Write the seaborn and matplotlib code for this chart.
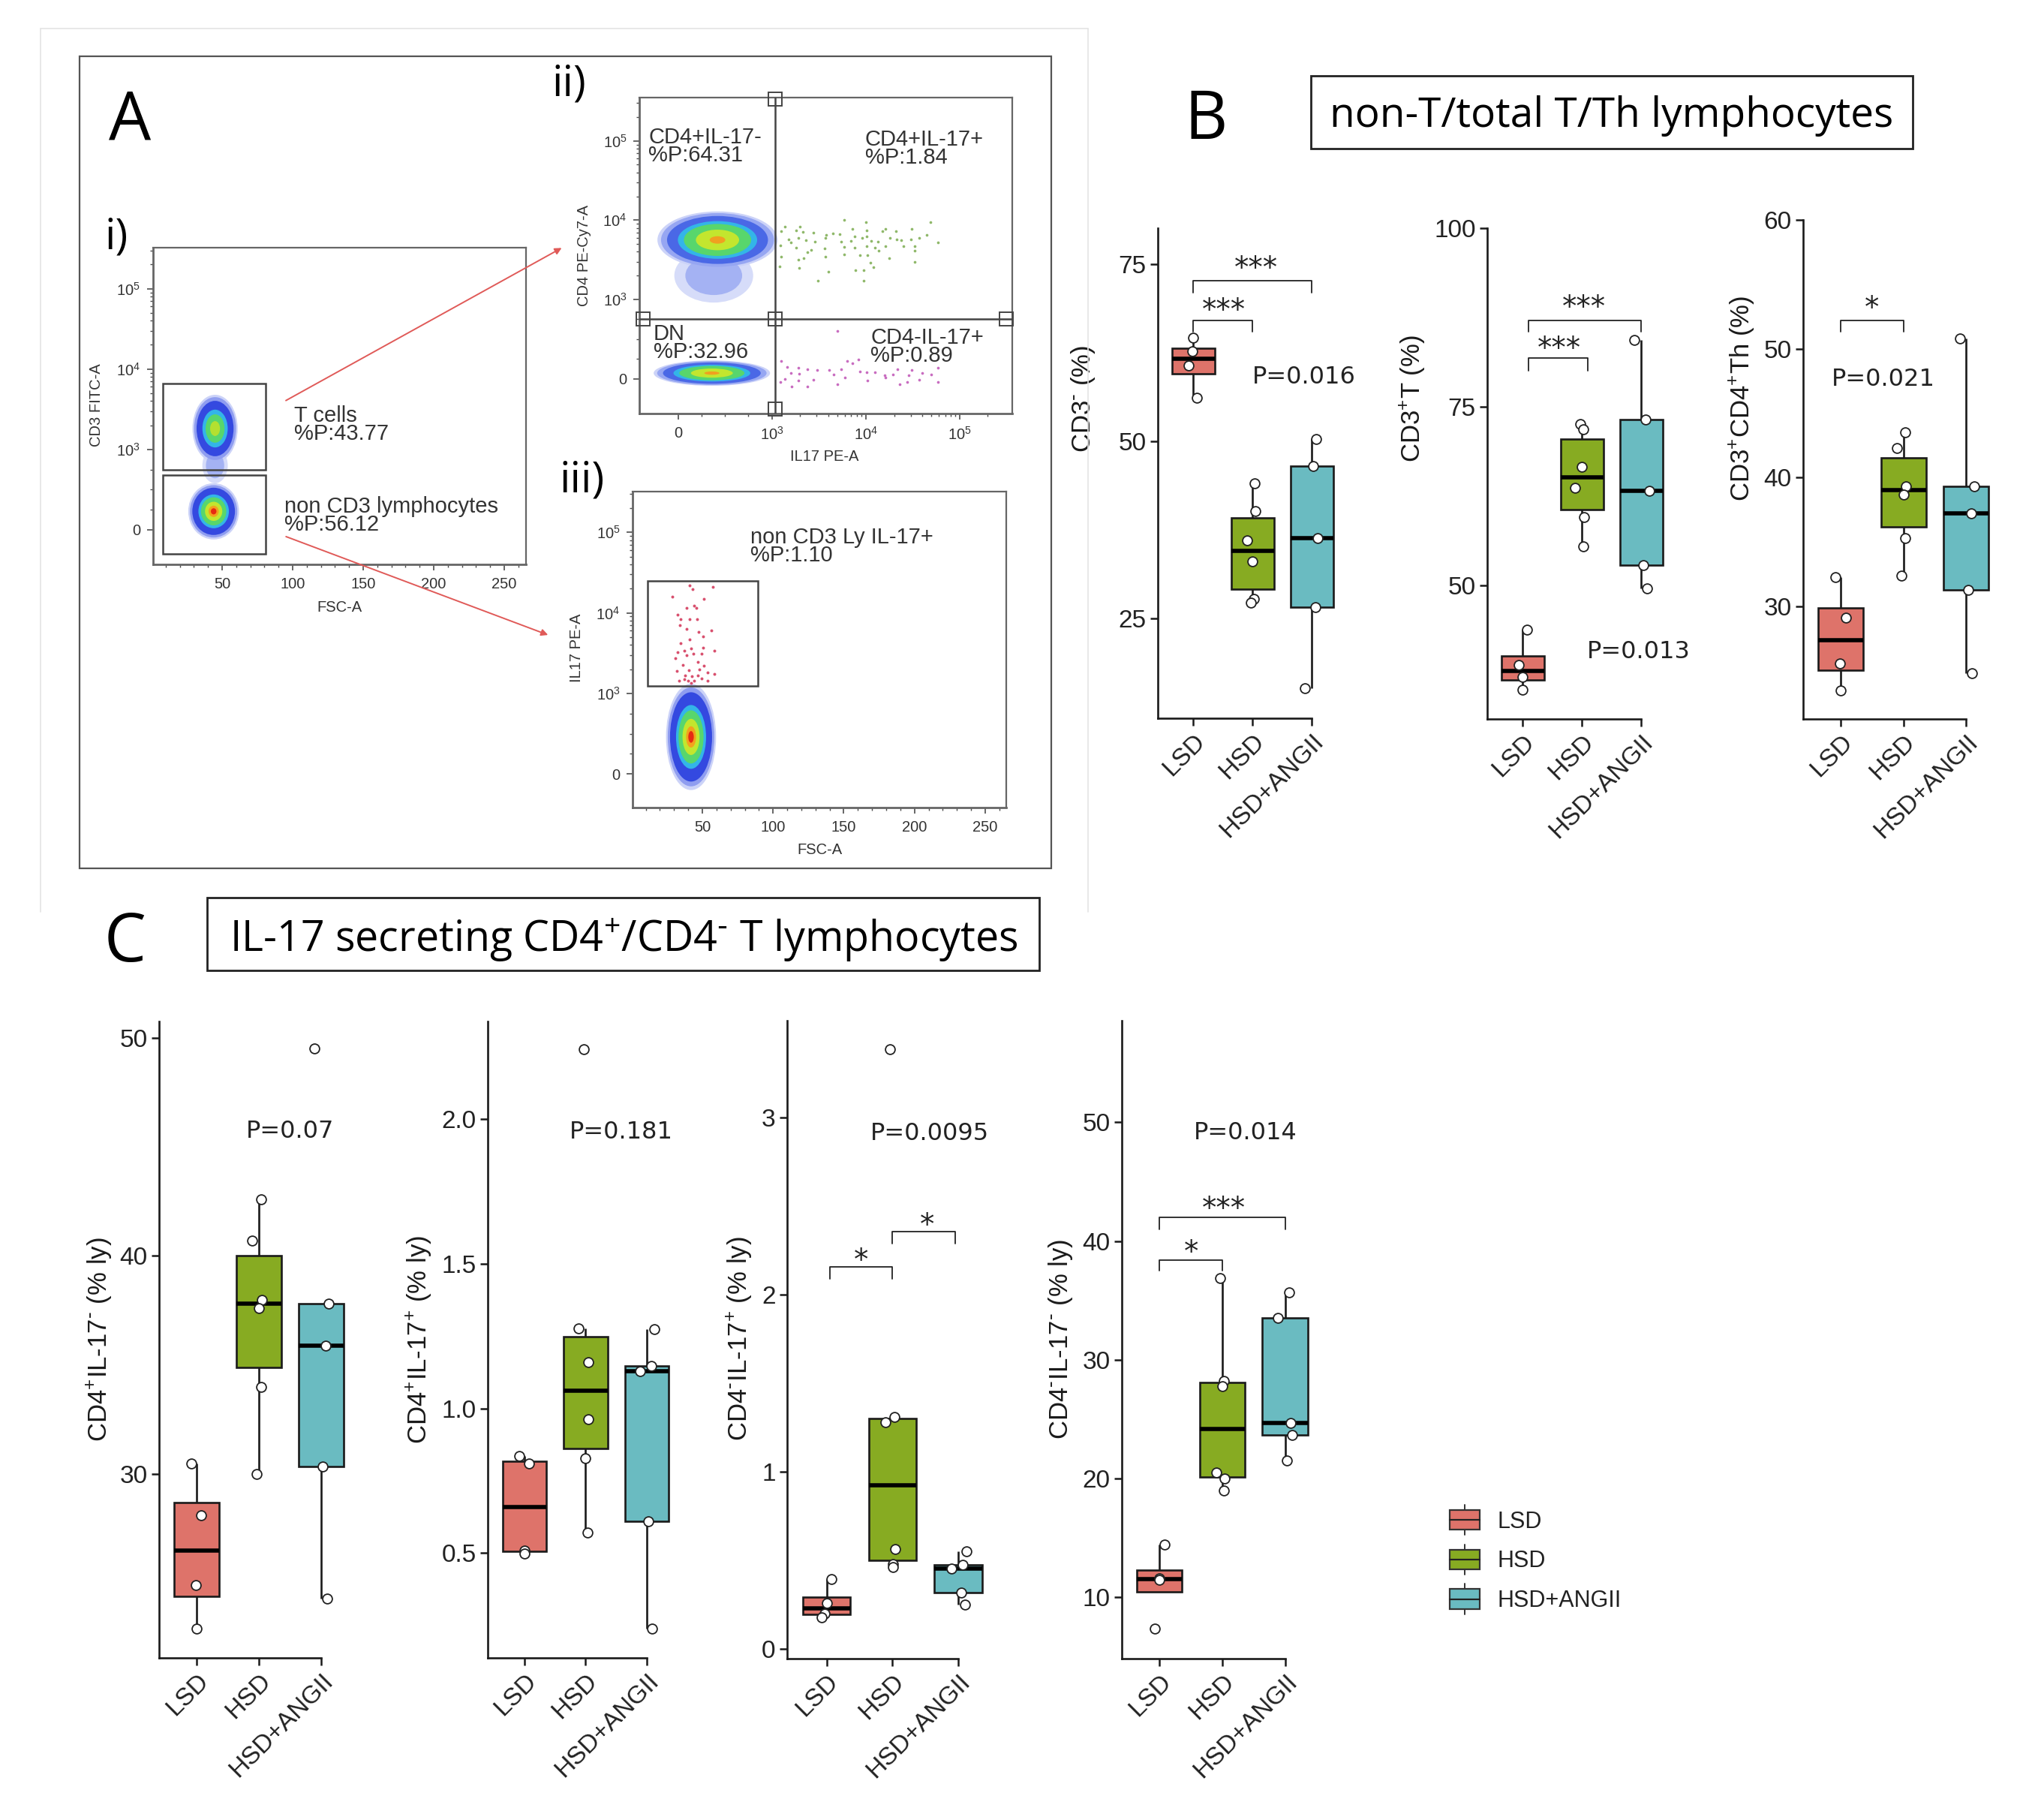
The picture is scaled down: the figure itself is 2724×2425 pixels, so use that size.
import numpy as np
import pandas as pd
import seaborn as sns
import matplotlib
matplotlib.use("Agg")
import matplotlib.pyplot as plt
from matplotlib.lines import Line2D
from matplotlib.legend_handler import HandlerBase
from matplotlib.patches import Rectangle, Ellipse, Patch, FancyArrowPatch
from matplotlib.ticker import FixedLocator

# ------------------------------------------------------------------ data
GROUPS = ["LSD", "HSD", "HSD+ANGII"]
COLORS = ["#DE736A", "#87AB22", "#6ABBC1"]

cd3neg_lsd = [64.6, 62.7, 60.7, 56.1]
cd3neg_hsd = [44.1, 40.2, 36.0, 33.0, 27.8, 27.2]
cd3neg_ang = [50.3, 46.5, 36.3, 26.6, 15.1]
cd3neg_jit = [[0, -.02, -.08, .06], [.03, .04, -.10, 0, .02, -.03], [.07, .02, .10, .06, -.12]]

cd3pos_lsd = [43.8, 38.9, 37.2, 35.4]
cd3pos_hsd = [72.6, 71.8, 66.6, 63.7, 59.6, 55.5]
cd3pos_ang = [84.4, 73.2, 63.2, 52.8, 49.6]
cd3pos_jit = [[.07, -.07, -.01, 0], [-.03, .02, -.01, -.12, .03, .02], [-.12, .07, .13, .03, .09]]

th_lsd = [32.25, 29.1, 25.6, 23.5]
th_hsd = [43.5, 42.3, 39.3, 38.7, 35.3, 32.4]
th_ang = [50.8, 39.3, 37.2, 31.3, 24.8]
th_jit = [[-.08, .08, -.01, 0], [.03, -.10, .04, 0, .03, -.03], [-.10, .13, .08, .03, .09]]

pn_lsd = [30.5, 28.1, 24.9, 22.9]
pn_hsd = [42.6, 40.7, 38.0, 37.6, 34.0, 30.0]
pn_ang = [49.5, 37.8, 35.9, 30.35, 24.3]
pn_jit = [[-.08, .08, -.01, 0], [.04, -.10, .05, 0, .04, -.03], [-.10, .12, .08, .03, .10]]

pp_lsd = [0.837, 0.811, 0.51, 0.498]
pp_hsd = [2.242, 1.277, 1.16, 0.964, 0.829, 0.57]
pp_ang = [1.275, 1.148, 1.13, 0.611, 0.239]
pp_jit = [[-.08, .08, 0, 0], [-.03, -.11, .04, .05, 0, .03], [.12, .07, -.11, .03, .09]]

np_lsd = [0.395, 0.26, 0.198, 0.18]
np_hsd = [3.384, 1.31, 1.28, 0.564, 0.48, 0.46]
np_ang = [0.55, 0.473, 0.453, 0.32, 0.25]
np_jit = [[.07, 0, -.03, -.08], [-.04, .03, -.11, .04, .01, .01], [.13, .07, -.10, .04, .10]]

nn_lsd = [14.4, 11.6, 11.45, 7.35]
nn_hsd = [36.9, 28.2, 27.8, 20.5, 20.0, 19.0]
nn_ang = [35.7, 33.55, 24.65, 23.65, 21.5]
nn_jit = [[.08, 0, 0, -.08], [-.03, .03, 0, -.10, .04, .03], [.07, -.11, .09, .11, .03]]

# flow cytometry: sparse events (axis units: FSC, log10 decades)
green_x = [3.77, 4.00, 4.69, 3.14, 3.30, 3.26, 3.10, 3.33, 3.44, 3.86, 4.21, 4.49, 4.01, 4.18, 4.32, 3.58, 3.65, 3.72,
           3.88, 4.01, 4.65, 4.57, 4.33, 4.38, 4.48, 4.77, 3.18, 3.28, 3.36, 3.46, 3.57, 3.74, 3.84, 3.96, 4.06, 4.13,
           4.26, 3.09, 3.20, 3.26, 3.42, 3.56, 3.77, 3.88, 4.01, 4.10, 4.21, 4.40, 4.52, 3.38, 3.77, 3.94, 4.02, 4.14,
           4.52, 3.10, 3.28, 3.34, 3.57, 4.25, 4.05, 4.08, 4.52, 3.08, 3.29, 3.60, 3.89, 3.98, 3.49, 3.98]
green_y = [4.00, 3.97, 3.97, 3.92, 3.92, 3.87, 3.86, 3.85, 3.84, 3.89, 3.89, 3.89, 3.87, 3.86, 3.86, 3.81, 3.83, 3.82,
           3.79, 3.79, 3.81, 3.78, 3.76, 3.75, 3.76, 3.72, 3.76, 3.78, 3.75, 3.73, 3.78, 3.73, 3.74, 3.78, 3.74, 3.73,
           3.78, 3.68, 3.72, 3.65, 3.62, 3.64, 3.66, 3.65, 3.67, 3.65, 3.67, 3.67, 3.67, 3.60, 3.57, 3.56, 3.56, 3.61,
           3.61, 3.54, 3.50, 3.52, 3.54, 3.52, 3.46, 3.41, 3.47, 3.42, 3.40, 3.35, 3.37, 3.37, 3.24, 3.24]
pink_x = [3.70, 3.10, 3.16, 3.28, 3.38, 3.48, 3.61, 3.74, 3.80, 3.86, 3.92, 3.94, 4.01, 4.10, 4.20, 4.29, 4.34, 4.49,
          4.60, 4.70, 4.77, 4.46, 3.20, 3.14, 3.28, 3.44, 3.66, 3.78, 4.02, 4.21, 4.36, 4.44, 4.57, 4.77, 3.70, 3.21,
          3.38, 3.09, 3.29]
pink_y = [2.60, 2.22, 2.15, 2.14, 2.12, 2.11, 2.11, 2.12, 2.22, 2.19, 2.24, 2.09, 2.08, 2.08, 2.04, 2.05, 2.12, 2.11,
          2.07, 2.05, 2.14, 2.04, 2.07, 2.00, 1.98, 1.99, 2.05, 2.01, 1.98, 2.01, 1.93, 1.96, 1.99, 1.96, 1.93, 1.90,
          1.90, 1.96, 2.06]
red_x = [41.2, 42.9, 57.4, 28.6, 51.2, 38.9, 44.2, 45.9, 32.7, 34.8, 40.8, 46.3, 33.9, 39.0, 56.5, 47.2, 50.3, 41.0,
         34.8, 41.9, 50.3, 58.3, 37.1, 32.7, 43.6, 49.5, 30.9, 38.9, 46.8, 36.2, 51.2, 40.6, 47.7, 31.8, 53.9, 58.3,
         38.0, 42.4, 46.8, 33.5, 39.7, 44.2, 53.9, 41.9, 37.1, 49.5]
red_y = [4.34, 4.29, 4.32, 4.20, 4.17, 4.06, 4.09, 4.06, 3.98, 3.92, 3.92, 3.92, 3.85, 3.80, 3.78, 3.76, 3.71, 3.67,
         3.62, 3.56, 3.57, 3.53, 3.53, 3.51, 3.49, 3.49, 3.44, 3.47, 3.39, 3.35, 3.34, 3.29, 3.30, 3.28, 3.26, 3.24,
         3.22, 3.21, 3.22, 3.16, 3.16, 3.16, 3.16, 3.13, 3.18, 3.19]

# dense populations summarised as nested density contours: (centre x, centre y, half width, half height)
tcell_cloud = (45, 3.26, 16, 0.42)
tcell_tail = (45, 2.80, 9, 0.22)
nonT_cloud = (44, 2.23, 18, 0.35)
cd4pos_cloud = (2.42, 3.75, 0.64, 0.36)
cd4pos_tail = (2.38, 3.30, 0.42, 0.34)
cd4neg_cloud = (2.36, 2.07, 0.62, 0.16)
il17neg_cloud = (42, 2.46, 17.7, 0.66)

DENSITY_FULL = [(1.0, "#ccd3f8"), (.93, "#8f9df0"), (.84, "#3449e0"), (.60, "#33b5e8"), (.50, "#58d66c"), (.34, "#c3e62e"), (.20, "#f2a21e"), (.11, "#e62a12")]
DENSITY_MID = [(1.0, "#ccd3f8"), (.93, "#8f9df0"), (.82, "#3449e0"), (.56, "#33b5e8"), (.42, "#58d66c"), (.22, "#b4e030")]
DENSITY_WIDE = [(1.0, "#ccd3f8"), (.94, "#96a6f2"), (.84, "#4a68e6"), (.66, "#33b5e8"), (.56, "#58d66c"), (.36, "#c3e62e"), (.13, "#f0a020")]
DENSITY_TAIL = [(1.0, "#d6dcf9"), (.72, "#a4b2f3")]

# ------------------------------------------------------------------ helpers
W, H = 2724, 2425
sns.set_theme(style="white", rc={"axes.facecolor": "none", "figure.facecolor": "white"})
plt.rcParams["font.family"] = ["Liberation Sans", "DejaVu Sans"]
plt.rcParams["mathtext.default"] = "regular"

fig = plt.figure(figsize=(W / 100, H / 100), dpi=100)
INK = "#1a1a1a"
FLOW = "#4d4d4d"
SUP_NEG = r"$^{\text{-}}$"
SUP_POS = "$^{+}$"


def px_axes(l, t, r, b):
    ax = fig.add_axes([l / W, 1 - b / H, (r - l) / W, (b - t) / H])
    ax.patch.set_alpha(0)
    return ax


def px_text(x, y, s, **kw):
    kw.setdefault("ha", "left")
    kw.setdefault("va", "center")
    return fig.text(x / W, 1 - y / H, s, **kw)


def px_frame(l, t, r, b, lw=2.0, ec="#222222"):
    fig.add_artist(Rectangle((l / W, 1 - b / H), (r - l) / W, (b - t) / H, transform=fig.transFigure,
                             fc="none", ec=ec, lw=lw))


def px_line(x0, y0, x1, y1, **kw):
    fig.add_artist(Line2D([x0 / W, x1 / W], [1 - y0 / H, 1 - y1 / H], transform=fig.transFigure, **kw))


def box_panel(vals, jit, left, top, bottom, spacing, ylim, yticks, ticklabels, ylabel, label_x, label_y,
              ptext, brackets):
    right = left + 3.2 * spacing
    ax = px_axes(left, top, right, bottom)
    df = pd.DataFrame({"code": np.concatenate([[i] * len(v) for i, v in enumerate(vals)]),
                       "value": np.concatenate(vals),
                       "jit": np.concatenate(jit)})
    sns.boxplot(data=df, x="code", y="value", hue="code", orient="x", palette=dict(enumerate(COLORS)),
                width=.72, gap=0, dodge=False, saturation=1, linewidth=1.9, linecolor=INK, showfliers=False,
                showcaps=False, medianprops={"linewidth": 4, "color": "black"}, legend=False, ax=ax, zorder=2)
    sns.scatterplot(x=df["code"] + df["jit"], y=df["value"], color="white", edgecolor="#222222", s=85,
                    linewidth=1.3, legend=False, ax=ax, zorder=5, clip_on=False)
    ax.set_xlim(-.6, 2.6)
    ax.set_ylim(*ylim)
    ax.set_xticks([0, 1, 2])
    ax.set_xticklabels(GROUPS, rotation=45, ha="right", rotation_mode="anchor", fontsize=24, color="#222222")
    ax.set_yticks(yticks)
    ax.set_yticklabels(ticklabels, fontsize=24, color="#222222")
    ax.tick_params(axis="both", length=7, width=1.8, color=INK, left=True, bottom=True, pad=4)
    ax.set_xlabel("")
    ax.set_ylabel(ylabel, fontsize=25, va="center", color=INK)
    ax.yaxis.set_label_coords((label_x - left) / (right - left), 1 - (label_y - top) / (bottom - top))
    for s in ("top", "right"):
        ax.spines[s].set_visible(False)
    for s in ("left", "bottom"):
        ax.spines[s].set_linewidth(1.9)
        ax.spines[s].set_color(INK)
    ax.spines["bottom"].set_bounds(-.6, 2)
    ax.text(ptext[0], ptext[1], ptext[2], fontsize=23, family="DejaVu Sans", ha="center", va="center", color="#222222")
    for x0, x1, y_top, y_low, x_star, y_star, stars in brackets:
        ax.plot([x0, x0, x1, x1], [y_low, y_top, y_top, y_low], color="#222222", lw=1.3, zorder=3, clip_on=False)
        ax.text(x_star, y_star, stars, fontsize=28, family="DejaVu Sans", ha="center", va="center", color="#222222")
    return ax


def flow_panel(l, t, r, b, xlim, ylim, xticks, xlabels, yticks, ylabels, xminor, yminor, xlabel, xlabel_pos,
               ylabel, ylabel_pos):
    ax = px_axes(l, t, r, b)
    ax.set_xlim(*xlim)
    ax.set_ylim(*ylim)
    ax.set_xticks(xticks)
    ax.set_xticklabels(xlabels, fontsize=14.5, color="#333333")
    ax.set_yticks(yticks)
    ax.set_yticklabels(ylabels, fontsize=14.5, color="#333333")
    ax.xaxis.set_minor_locator(FixedLocator(xminor))
    ax.yaxis.set_minor_locator(FixedLocator(yminor))
    ax.tick_params(axis="both", which="major", length=6, width=1.2, color=FLOW, left=True, bottom=True, pad=6)
    ax.tick_params(axis="both", which="minor", length=3, width=1.0, color=FLOW, left=True, bottom=True)
    for s in ax.spines.values():
        s.set_color("#666666")
        s.set_linewidth(1.6)
    ax.spines["left"].set_linewidth(2)
    ax.spines["bottom"].set_linewidth(2)
    px_text(*xlabel_pos, xlabel, ha="center", fontsize=14.5, color="#333333")
    px_text(*ylabel_pos, ylabel, ha="center", rotation=90, fontsize=14.5, color="#333333")
    return ax


def cloud(ax, spec, levels):
    cx, cy, wx, wy = spec
    for k, (scale, col) in enumerate(levels):
        ax.add_patch(Ellipse((cx, cy), 2 * wx * scale, 2 * wy * scale, fc=col, ec="none", zorder=2 + k * .01))


def gate(ax, x0, x1, y0, y1):
    ax.add_patch(Rectangle((x0, y0), x1 - x0, y1 - y0, fc="none", ec="#444444", lw=1.8, zorder=4))


# ------------------------------------------------------------------ panel A
for seg in [(54, 38, 1450, 38), (54, 38, 54, 1215), (1450, 38, 1450, 1215)]:
    px_line(*seg, color="#e4e4e4", lw=1.2)
px_frame(106, 75, 1401, 1157, lw=1.6, ec="#555555")

FSC_T = [50, 100, 150, 200, 250]
FSC_L = ["50", "100", "150", "200", "250"]
FSC_MINOR = list(range(10, 265, 10))
DEC_T = [2, 3, 4, 5]
DEC_L = ["0", "$10^3$", "$10^4$", "$10^5$"]
DEC_MINOR = [d + np.log10(m) for d in (3, 4) for m in range(2, 10)] + [5 + np.log10(m) for m in (2, 3)] + [2.25, 2.5, 2.75]

ax_i = flow_panel(203.6, 330, 701, 752, (0.85, 265.4), (1.57, 5.51), FSC_T, FSC_L, DEC_T, DEC_L, FSC_MINOR, DEC_MINOR,
                  "FSC-A", (452, 809), "CD3 FITC-A", (128, 540))
cloud(ax_i, tcell_tail, DENSITY_TAIL)
cloud(ax_i, tcell_cloud, DENSITY_MID)
cloud(ax_i, nonT_cloud, DENSITY_FULL)
gate(ax_i, 8, 80.9, 2.75, 3.82)
gate(ax_i, 8, 80.9, 1.70, 2.68)

ax_ii = flow_panel(852, 129.6, 1349, 551, (1.587, 5.56), (1.56, 5.55), DEC_T, DEC_L, DEC_T, DEC_L,
                   [d + np.log10(m) for d in (3, 4) for m in range(2, 10)] + [2.25, 2.5, 2.75, 5.3],
                   DEC_MINOR, "IL17 PE-A", (1099, 608), "CD4 PE-Cy7-A", (778, 340))
cloud(ax_ii, cd4pos_tail, DENSITY_TAIL)
cloud(ax_ii, cd4pos_cloud, DENSITY_WIDE)
cloud(ax_ii, cd4neg_cloud, DENSITY_WIDE)
sns.scatterplot(x=green_x, y=green_y, color="#8fb86a", s=7, linewidth=0, legend=False, ax=ax_ii, zorder=3)
sns.scatterplot(x=pink_x, y=pink_y, color="#c86cc0", s=7, linewidth=0, legend=False, ax=ax_ii, zorder=3)
ax_ii.axvline(3.035, color="#444444", lw=1.8, zorder=4)
ax_ii.axhline(2.75, color="#444444", lw=1.8, zorder=4)
ax_ii.plot([3.035, 1.63, 3.035, 5.5, 3.035], [5.53, 2.75, 2.75, 2.75, 1.62], ls="none", marker="s", ms=13,
           mfc="none", mec="#444444", mew=1.4, clip_on=False, zorder=5)

ax_iii = flow_panel(843, 654.5, 1341, 1076, (0.64, 264.9), (1.583, 5.51), FSC_T, FSC_L, DEC_T, DEC_L, FSC_MINOR,
                    DEC_MINOR, "FSC-A", (1092, 1133), "IL17 PE-A", (769, 863))
cloud(ax_iii, il17neg_cloud, DENSITY_FULL)
sns.scatterplot(x=red_x, y=red_y, color="#d8506e", s=8, linewidth=0, legend=False, ax=ax_iii, zorder=3)
gate(ax_iii, 11, 89.3, 3.09, 4.40)

FLOW_TXT = dict(fontsize=21, color="#333333", linespacing=.78, va="center")
px_text(392, 566, "T cells\n%P:43.77", **FLOW_TXT)
px_text(379, 687, "non CD3 lymphocytes\n%P:56.12", **FLOW_TXT)
px_text(864, 195, "CD4+IL-17-\n%P:64.31", **FLOW_TXT)
px_text(1153, 198, "CD4+IL-17+\n%P:1.84", **FLOW_TXT)
px_text(871, 457, "DN\n%P:32.96", **FLOW_TXT)
px_text(1160, 462, "CD4-IL-17+\n%P:0.89", **FLOW_TXT)
px_text(1000, 728, "non CD3 Ly IL-17+\n%P:1.10", **FLOW_TXT)

for (x0, y0, x1, y1) in [(378.6, 535, 751, 329), (378.6, 714, 733, 847)]:
    fig.add_artist(FancyArrowPatch((x0 / W, 1 - y0 / H), (x1 / W, 1 - y1 / H), transform=fig.transFigure,
                                   arrowstyle="-|>", mutation_scale=13, color="#e05a58", lw=1.4, zorder=6))

HEAD = dict(family=["Open Sans", "DejaVu Sans"], color="black")
px_text(145, 162, "A", fontsize=64, **HEAD)
px_text(1578, 162, "B", fontsize=64, **HEAD)
px_text(139, 1258, "C", fontsize=64, **HEAD)
px_text(139, 317, "i)", fontsize=41, **HEAD)
px_text(735, 113, "ii)", fontsize=41, **HEAD)
px_text(746, 641, "iii)", fontsize=41, **HEAD)

# ------------------------------------------------------------------ titles
px_frame(1747, 101, 2549, 198)
px_text(2148, 155, "non-T/total T/Th lymphocytes", ha="center", fontsize=39.5, **HEAD)
px_frame(276, 1196, 1385, 1293)
px_text(831, 1253, f"IL-17 secreting CD4{SUP_POS}/CD4{SUP_NEG} T lymphocytes", ha="center", fontsize=40, **HEAD)

# ------------------------------------------------------------------ panel B
box_panel([cd3neg_lsd, cd3neg_hsd, cd3neg_ang], cd3neg_jit, 1543, 304, 957, 79, (10.9, 80.1), [25, 50, 75],
          ["25", "50", "75"], f"CD3{SUP_NEG} (%)", 1443, 531, (1.87, 59.1, "P=0.016"),
          [(0, 2, 72.66, 71.0, 1.06, 74.4, "***"), (0, 1, 67.1, 65.5, .51, 68.4, "***")])
box_panel([cd3pos_lsd, cd3pos_hsd, cd3pos_ang], cd3pos_jit, 1982, 304, 958, 79, (31.3, 100), [50, 75, 100],
          ["50", "75", "100"], f"CD3{SUP_POS}T (%)", 1883, 531, (1.96, 40.7, "P=0.013"),
          [(.09, 2, 87.1, 85.5, 1.03, 88.9, "***"), (.09, 1.09, 81.8, 80.0, .62, 83.1, "***")])
box_panel([th_lsd, th_hsd, th_ang], th_jit, 2403, 293, 958, 83.5, (21.26, 60), [30, 40, 50, 60],
          ["30", "40", "50", "60"], f"CD3{SUP_POS}CD4{SUP_POS}Th (%)", 2322, 531, (.68, 47.6, "P=0.021"),
          [(0, 1, 52.2, 51.3, .5, 53.1, "*")])

# ------------------------------------------------------------------ panel C
box_panel([pn_lsd, pn_hsd, pn_ang], pn_jit, 212, 1360.5, 2209, 83, (21.57, 50.77), [30, 40, 50],
          ["30", "40", "50"], f"CD4{SUP_POS}IL-17{SUP_NEG} (% ly)", 133, 1785, (1.50, 45.7, "P=0.07"), [])
box_panel([pp_lsd, pp_hsd, pp_ang], pp_jit, 650, 1360.5, 2209, 81.5, (0.138, 2.339), [.5, 1, 1.5, 2],
          ["0.5", "1.0", "1.5", "2.0"], f"CD4{SUP_POS}IL-17{SUP_POS} (% ly)", 559, 1785, (1.58, 1.956, "P=0.181"), [])
box_panel([np_lsd, np_hsd, np_ang], np_jit, 1049, 1360, 2210, 87.7, (-.055, 3.547), [0, 1, 2, 3],
          ["0", "1", "2", "3"], f"CD4{SUP_NEG}IL-17{SUP_POS} (% ly)", 986, 1784, (1.57, 2.91, "P=0.0095"),
          [(.05, 1, 2.158, 2.09, .52, 2.19, "*"), (1, 1.95, 2.358, 2.29, 1.53, 2.39, "*")])
box_panel([nn_lsd, nn_hsd, nn_ang], nn_jit, 1495, 1360, 2210, 83.7, (4.82, 58.56), [10, 20, 30, 40, 50],
          ["10", "20", "30", "40", "50"], f"CD4{SUP_NEG}IL-17{SUP_NEG} (% ly)", 1414, 1784, (1.37, 49.1, "P=0.014"),
          [(0, 2, 42, 41, 1.02, 42.7, "***"), (0, 1, 38.4, 37.5, .5, 39.0, "*")])


# ------------------------------------------------------------------ legend
class BoxKey(HandlerBase):
    def create_artists(self, legend, orig_handle, xd, yd, width, height, fontsize, trans):
        cx = width / 2 - xd
        y0, y1 = -yd, height - yd
        whisk = Line2D([cx, cx], [y0 - 5, y1 + 5], color="#333333", lw=1.4, transform=trans)
        rect = Rectangle((-xd, y0), width, height, fc=orig_handle.get_facecolor(), ec="#333333", lw=1.6, transform=trans)
        med = Line2D([-xd, width - xd], [(y0 + y1) / 2] * 2, color="#222222", lw=1.6, transform=trans)
        return [whisk, rect, med]


handles = [Patch(facecolor=c, label=g) for g, c in zip(GROUPS, COLORS)]
fig.legend(handles=handles, loc="upper left", bbox_to_anchor=(1932 / W, 1 - 2012 / H), frameon=False,
           fontsize=22, borderpad=0, borderaxespad=0, handlelength=1.31, handleheight=.95, handletextpad=.78,
           labelspacing=.72, handler_map={Patch: BoxKey()}, labelcolor="#222222")

fig.savefig("out.png", dpi=100)
